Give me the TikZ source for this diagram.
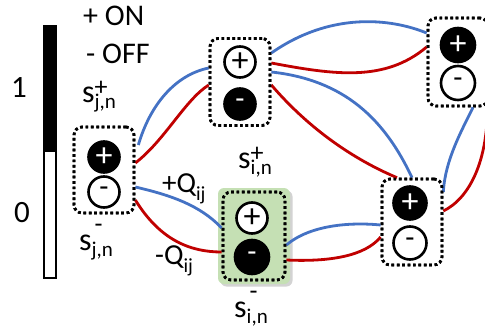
\documentclass[tikz,border=0pt]{standalone}
\usepackage{fontspec}
\setmainfont{Carlito}
\usetikzlibrary{calc,shadows}
\definecolor{eblue}{HTML}{4472C4}
\definecolor{ered}{HTML}{C00000}
\definecolor{lgreen}{HTML}{C5E0B4}
\newcommand\slblp[1]{s\rlap{\raisebox{7pt}{\fontsize{26}{26}\selectfont +}}\raisebox{-6pt}{\fontsize{21}{21}\selectfont #1}}
\newcommand\slblm[1]{s\rlap{\kern3pt\raisebox{18pt}{\fontsize{26}{26}\selectfont -}}\raisebox{-6pt}{\fontsize{21}{21}\selectfont #1}}
\newcommand\qlbl[2]{#1Q\raisebox{-8pt}{\fontsize{20}{20}\selectfont #2}}
\begin{document}
\begin{tikzpicture}[x=1pt,y=-1pt,
  txt/.style={font=\fontsize{31}{33}\selectfont, inner sep=0pt},
  lab/.style={txt, anchor=base west},
  cellbox/.style={draw, line width=2.7pt, dash pattern=on 2.7pt off 2.7pt, rounded corners=8pt, minimum width=60pt, minimum height=86pt, inner sep=0pt},
  circbase/.style={circle, draw=black, line width=2.6pt, minimum size=31pt, inner sep=0pt},
  onc/.style={circbase, fill=black, text=white},
  offc/.style={circbase, fill=white, text=black},
  pl/.style={font=\fontsize{34}{34}\selectfont},
  mi/.style={font=\fontsize{30}{30}\selectfont},
  wb/.style={eblue, line width=2.8pt},
  wr/.style={ered, line width=2.8pt}]
\useasboundingbox (0,0) rectangle (485,332);
\clip (0,0) rectangle (485,332);

% level bar
\node[draw=black, line width=1.2pt, minimum width=12pt, minimum height=252pt, inner sep=0pt] (bar) at (50,152) {};
\fill[black] (bar.north west) rectangle (bar.east);
\draw[line width=1.2pt] (bar.north west) rectangle (bar.south east);
\node[txt, anchor=base] (one) at (19,97) {1};
\node[txt, anchor=base] (zero) at (22,222) {0};
\node[lab, font=\fontsize{30}{32}\selectfont] (on) at (83,25) {+ ON};
\node[lab, font=\fontsize{30}{32}\selectfont] (off) at (86,63) {- OFF};

% green highlight
\node[fill=lgreen, rounded corners=6pt, minimum width=72pt, minimum height=96pt, inner sep=0pt,
      drop shadow={shadow xshift=2.5pt, shadow yshift=-2.5pt, opacity=0.35}] (ibg) at (254,236) {};

% boxes (positions)
\node[cellbox] (J) at (104,170) {};
\node[cellbox, minimum height=87pt] (K) at (240,82) {};
\node[cellbox, minimum height=88pt] (T) at (458,62) {};
\node[cellbox] (M) at (412,222) {};
\node[cellbox, minimum width=62pt, minimum height=88pt] (I) at (254,236) {};

% connectors
\draw[wb] ($(J.east)+(3,-25)$) .. controls (150,105) and (175,75) .. ($(K.west)+(0,-14)$);
\draw[wr] ($(J.east)+(0,-7)$) .. controls (165,140) and (185,100) .. ($(K.west)+(0,3)$);
\draw[wb] ($(J.east)+(0,17)$) .. controls (170,195) and (200,205) .. ($(I.west)+(0,-8)$);
\draw[wr] ($(J.east)+(0,30)$) .. controls (160,240) and (190,252) .. ($(I.west)+(0,16)$);
\draw[wb] ($(K.east)+(0,-29)$) .. controls (330,12) and (390,18) .. ($(T.west)+(0,-29)$);
\draw[wr] ($(K.east)+(0,-19)$) .. controls (335,75) and (385,82) .. ($(T.west)+(0,-15)$);
\draw[wb] ($(K.east)+(0,-10)$) .. controls (345,80) and (385,120) .. ($(M.north)+(0,0)$);
\draw[wr] ($(K.east)+(0,3)$) .. controls (310,130) and (355,160) .. ($(M.north)+(-15,0)$);
\draw[wb] ($(T.south)+(15,0)$) .. controls (462,130) and (445,160) .. ($(M.east)+(0,-30)$);
\draw[wr] ($(T.south east)+(-2,-2)$) .. controls (488,160) and (470,198) .. ($(M.east)+(0,-11)$);
\draw[wb] ($(I.east)+(0,9)$) .. controls (310,225) and (350,222) .. ($(M.west)+(0,3)$);
\draw[wr] ($(I.east)+(0,24)$) .. controls (330,262) and (365,256) .. ($(M.west)+(0,15)$);

% redraw boxes over connectors
\node[cellbox] at (J) {};
\node[cellbox, minimum height=87pt] at (K) {};
\node[cellbox, minimum height=88pt] at (T) {};
\node[cellbox] at (M) {};
\node[cellbox, minimum width=62pt, minimum height=88pt] at (I) {};

% circles
\node[onc, pl] (Jp) at (104,157) {+};
\node[offc, mi] (Jm) at (104,192) {-};
\node[offc, pl] (Kp) at (240,62) {+};
\node[onc, mi] (Km) at (240,104) {-};
\node[onc, pl, minimum size=34pt] (Tp) at (458,45) {+};
\node[offc, mi, minimum size=34pt] (Tm) at (458,83) {-};
\node[onc, pl, minimum size=33pt] (Mp) at (410,203) {+};
\node[offc, mi, minimum size=33pt] (Mm) at (410,243) {-};
\node[offc, pl] (Ip) at (252,218) {+};
\node[onc, mi, minimum size=34pt] (Im) at (252,257) {-};

% labels
\node[lab, font=\fontsize{32}{34}\selectfont] (sjp) at (82,102) {\slblp{j,n}};
\node[lab, font=\fontsize{32}{34}\selectfont] (sjm) at (79,250) {\slblm{j,n}};
\node[lab, font=\fontsize{32}{34}\selectfont] (sip) at (238,168) {\slblp{i,n}};
\node[lab, font=\fontsize{32}{34}\selectfont] (sim) at (234,317) {\slblm{i,n}};
\node[lab, font=\fontsize{29}{31}\selectfont] (qp) at (162,192) {\qlbl{+}{ij}};
\node[lab, font=\fontsize{29}{31}\selectfont] (qm) at (155,264) {\qlbl{-}{ij}};
\end{tikzpicture}
\end{document}
